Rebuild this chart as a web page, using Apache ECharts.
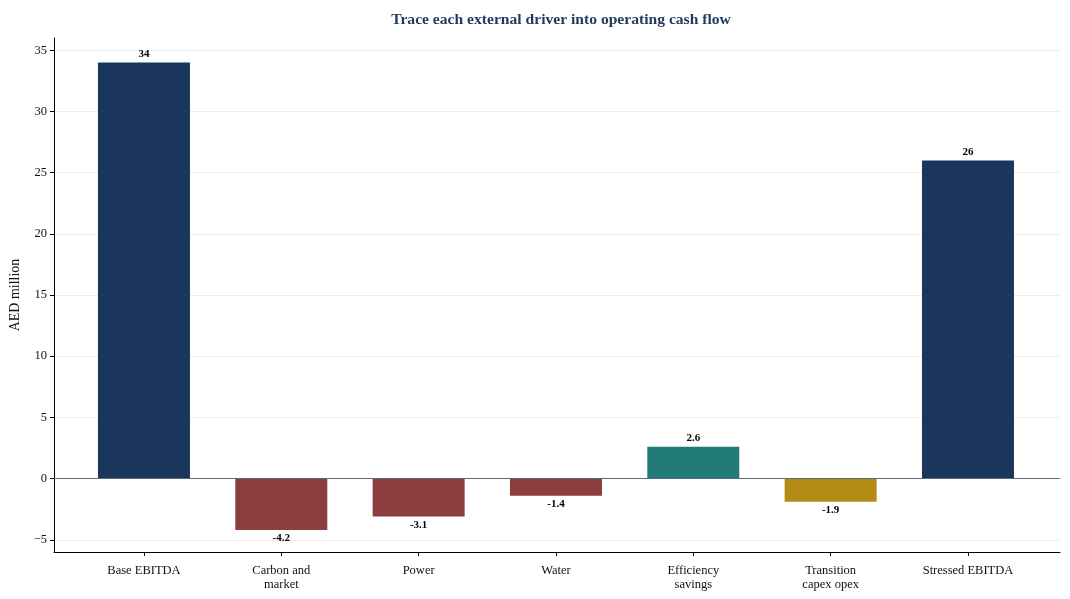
<!DOCTYPE html>
<html>
<head>
<meta charset="utf-8">
<script src="https://cdn.jsdelivr.net/npm/echarts@6/dist/echarts.min.js"></script>
<style>
  html, body { margin: 0; padding: 0; background: #fff; }
  #chart { width: 1070px; height: 599px; }
</style>
</head>
<body>
<div id="chart"></div>
<script>
// 类目与数值
var categories = ['Base EBITDA', 'Carbon and\nmarket', 'Power', 'Water', 'Efficiency\nsavings', 'Transition\ncapex opex', 'Stressed EBITDA'];
var values = [34, -4.2, -3.1, -1.4, 2.6, -1.9, 26];
var barColors = ['#1b365d', '#8b3d3f', '#8b3d3f', '#8b3d3f', '#227b77', '#b38a14', '#1b365d'];
var yTicks = [-5, 0, 5, 10, 15, 20, 25, 30, 35];
var xTicks = [0, 1, 2, 3, 4, 5, 6];

var FONT = '"Liberation Serif", "Times New Roman", serif';

var chart = echarts.init(document.getElementById('chart'));

var barData = values.map(function (v, i) {
    return {
        value: [i, v],
        itemStyle: { color: barColors[i] },
        label: { position: v >= 0 ? 'top' : 'bottom' }
    };
});

var option = {
    backgroundColor: '#ffffff',
    animation: false,
    textStyle: { fontFamily: FONT },
    title: {
        text: 'Trace each external driver into operating cash flow',
        left: 556,
        textAlign: 'center',
        top: 7,
        textStyle: { fontFamily: FONT, fontSize: 15.6, fontWeight: 'bold', color: '#1f3a5f' }
    },
    grid: { left: 54, right: 10, top: 38, bottom: 47, containLabel: false, outerBoundsMode: 'none' },
    xAxis: {
        type: 'value',
        min: -0.655,
        max: 6.67,
        axisLine: { show: true, onZero: false, lineStyle: { color: '#000', width: 1 } },
        axisTick: { show: true, inside: false, length: 4, lineStyle: { color: '#000' }, customValues: xTicks },
        axisLabel: {
            customValues: xTicks,
            color: '#111',
            fontFamily: FONT,
            fontSize: 12.5,
            lineHeight: 14,
            margin: 12,
            formatter: function (v) { return categories[Math.round(v)] || ''; }
        },
        splitLine: { show: false }
    },
    yAxis: {
        type: 'value',
        min: -6,
        max: 36,
        name: 'AED million',
        nameLocation: 'middle',
        nameGap: 28,
        nameTextStyle: { fontFamily: FONT, fontSize: 14, color: '#111' },
        axisLine: { show: true, onZero: false, lineStyle: { color: '#000', width: 1 } },
        axisTick: { show: true, inside: false, length: 4, lineStyle: { color: '#000' }, customValues: yTicks },
        axisLabel: {
            customValues: yTicks,
            color: '#111',
            fontFamily: FONT,
            fontSize: 12.5,
            margin: 7,
            formatter: function (v) { return v < 0 ? '\u2212' + Math.abs(v) : String(v); }
        },
        splitLine: { show: true, lineStyle: { color: '#ececec', width: 1 } }
    },
    series: [{
        type: 'bar',
        data: barData,
        barWidth: 92,
        label: {
            show: true,
            fontFamily: FONT,
            fontSize: 11,
            fontWeight: 'bold',
            color: '#000',
            distance: 3,
            formatter: function (p) { return String(p.value[1]); }
        },
        markLine: {
            silent: true,
            symbol: 'none',
            label: { show: false },
            lineStyle: { color: '#5a6b80', width: 1, type: 'solid' },
            data: [{ yAxis: 0 }]
        }
    }]
};

chart.setOption(option);
</script>
</body>
</html>
